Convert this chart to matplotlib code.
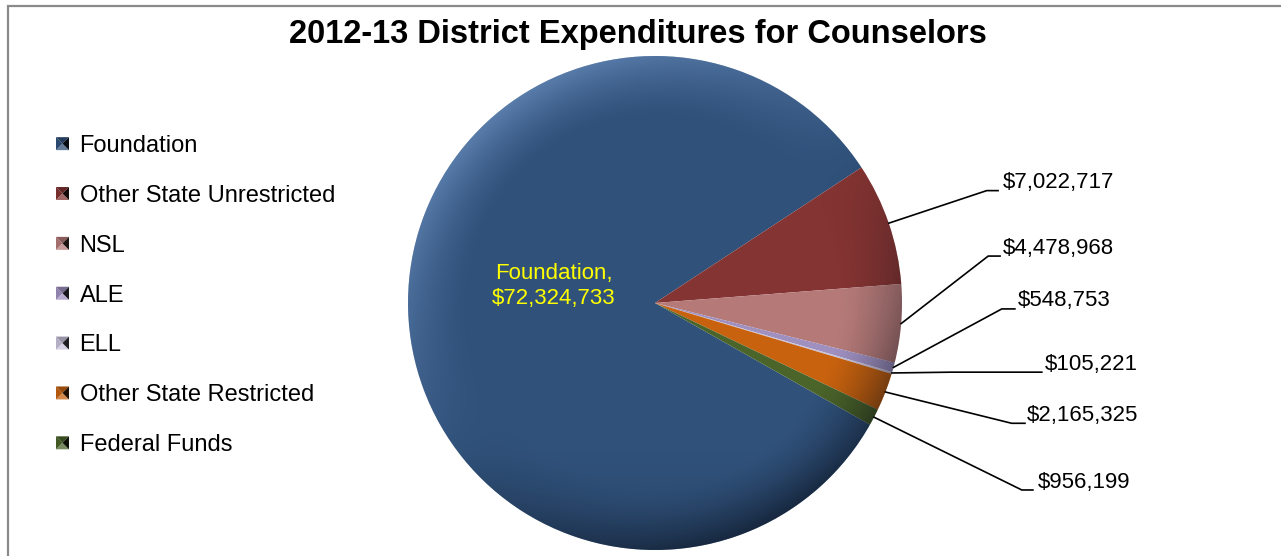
import numpy as np
import matplotlib
matplotlib.use('Agg')
import matplotlib.pyplot as plt
import matplotlib.colors as mcolors
from matplotlib.patches import Circle, Polygon, Patch, Rectangle
from matplotlib.legend_handler import HandlerBase

# expenditure data
categories = ['Foundation', 'Other State Unrestricted', 'NSL', 'ALE', 'ELL',
              'Other State Restricted', 'Federal Funds']
amounts = [72324733, 7022717, 4478968, 548753, 105221, 2165325, 956199]
colors = ['#30517a', '#843432', '#b57a78', '#9f90c0', '#c9c2dc', '#c8620e', '#4b6429']

# leader line elbows / label anchors (axes data units, pie radius = 1)
elbows = [None, (1.343, 0.455), (1.349, 0.190), (1.404, -0.024),
          (1.20, -0.280), (1.444, -0.487), (1.485, -0.757)]
line_ends = [None, 1.389, 1.397, 1.457, 1.566, 1.498, 1.530]
text_x = [None, 1.409, 1.409, 1.470, 1.579, 1.505, 1.549]

plt.rcParams['font.family'] = ['Liberation Sans', 'DejaVu Sans']


class BevelSquare(HandlerBase):
    # little pyramid-looking legend key
    def create_artists(self, legend, orig_handle, xdescent, ydescent,
                       width, height, fontsize, trans):
        s = min(width, height)
        x0 = -xdescent + (width - s) / 2
        y0 = -ydescent + (height - s) / 2
        c = np.array(mcolors.to_rgb(orig_handle.get_facecolor()))
        cx, cy = x0 + s / 2, y0 + s / 2
        tris = [
            ([(x0, y0), (x0 + s, y0), (cx, cy)], c + (1 - c) * 0.25),
            ([(x0, y0 + s), (x0, y0), (cx, cy)], c * 0.9),
            ([(x0 + s, y0 + s), (x0, y0 + s), (cx, cy)], c * 0.75),
            ([(x0 + s, y0), (x0 + s, y0 + s), (cx, cy)], c * 0.15),
        ]
        return [Polygon(pts, closed=True, facecolor=fc, edgecolor='none',
                        transform=trans) for pts, fc in tris]


W, H = 1281, 556
fig = plt.figure(figsize=(W / 100, H / 100), dpi=100)

cx_px, cy_px, r_px = 655, 303, 247
ax = fig.add_axes([(cx_px - r_px) / W, (H - cy_px - r_px) / H, 2 * r_px / W, 2 * r_px / H])

wedges, _ = ax.pie(amounts, colors=colors, startangle=330.5, counterclock=False,
                   radius=1, wedgeprops=dict(linewidth=0))
ax.set_xlim(-1, 1)
ax.set_ylim(-1, 1)
ax.set_aspect('auto')
ax.axis('off')

# bevel-like shading over the pie: bluish highlight upper left, shadow lower right
n = 600
g = np.linspace(-1, 1, n)
X, Y = np.meshgrid(g, g)
R = np.hypot(X, Y)
rim = np.clip((R - 0.74) / 0.26, 0, 1) ** 1.5
light = (-0.6 * X + 0.8 * Y) / np.maximum(R, 1e-6)
shade = np.zeros((n, n, 4))
hi = light > 0
shade[hi, :3] = mcolors.to_rgb('#8db4ea')
shade[~hi, :3] = mcolors.to_rgb('#050a14')
alpha = np.where(hi, rim * light * 0.45, rim * (-light) * 0.5)
alpha += np.where(hi, 0, np.clip(-Y - 0.6, 0, 1) * 0.3)
shade[..., 3] = np.clip(alpha, 0, 0.7)
im = ax.imshow(shade, extent=(-1, 1, -1, 1), origin='lower', zorder=3,
               interpolation='bilinear', aspect='auto')
im.set_clip_path(Circle((0, 0), 1, transform=ax.transData))

# data labels
for i, w in enumerate(wedges):
    mid = np.deg2rad((w.theta1 + w.theta2) / 2)
    if i == 0:
        ax.text(-0.41, 0.07, f'{categories[i]},\n${amounts[i]:,}', ha='center',
                va='center', color='#ffff00', fontsize=16, linespacing=1.25, zorder=5)
        continue
    sx, sy = np.cos(mid), np.sin(mid)
    ex, ey = elbows[i]
    ax.plot([sx, ex, line_ends[i]], [sy, ey, ey], color='black', lw=1.2,
            clip_on=False, zorder=4, solid_joinstyle='miter')
    ax.text(text_x[i], ey + 0.01, f'${amounts[i]:,}', ha='left', va='baseline',
            fontsize=16, clip_on=False)

fig.text(638 / W, 1 - 35 / H, '2012-13 District Expenditures for Counselors',
         ha='center', va='center', fontsize=23.5, fontweight='bold')

handles = [Patch(facecolor=c, label=l) for c, l in zip(colors, categories)]
fig.legend(handles=handles, loc='upper left', bbox_to_anchor=(56 / W, 1 - 135 / H),
           frameon=False, fontsize=17, handlelength=0.55, handleheight=0.55,
           handletextpad=0.45, labelspacing=1.18, borderpad=0, borderaxespad=0,
           handler_map={Patch: BevelSquare()})

# chart area outline
fig.patches.append(Rectangle((8 / W, -0.1), 1.2, 1.1 - 5.5 / H, transform=fig.transFigure,
                             fill=False, edgecolor='#8a8a8a', lw=1.6))

fig.savefig('out.png', dpi=100)
